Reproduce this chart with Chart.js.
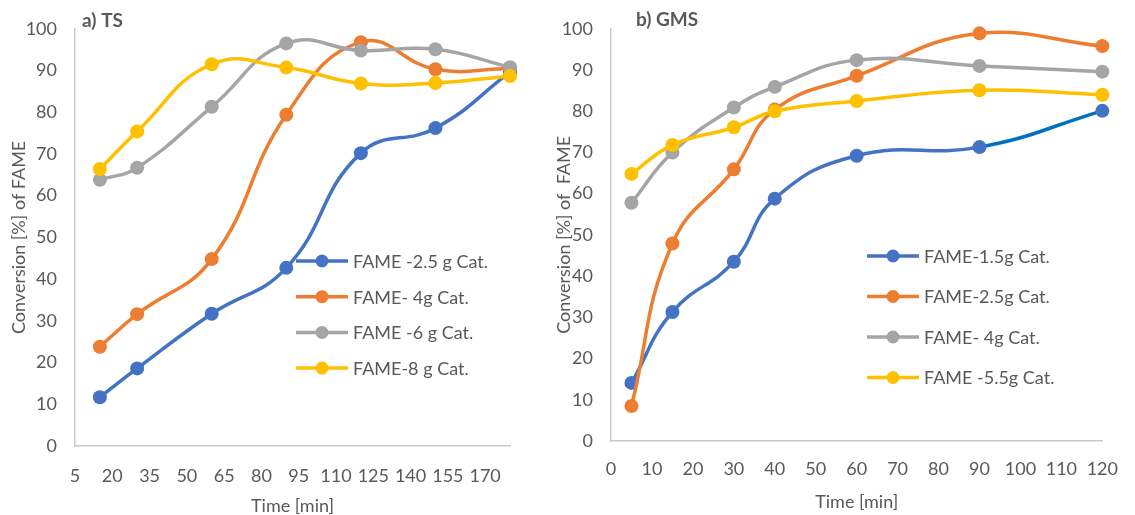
<!DOCTYPE html>
<html>
<head>
<meta charset="utf-8">
<script src="https://cdn.jsdelivr.net/npm/chart.js@4.4.0/dist/chart.umd.min.js"></script>
<style>
  html, body { margin: 0; padding: 0; background: #fff; }
  #wrap { position: relative; width: 1135px; height: 515px; }
  .box { position: absolute; top: 0; height: 515px; }
</style>
</head>
<body>
<div id="wrap">
  <div class="box" style="left:0;width:545px"><canvas id="chartTS"></canvas></div>
  <div class="box" style="left:545px;width:590px"><canvas id="chartGMS"></canvas></div>
</div>
<script>
// a) TS
const timeTS = [15, 30, 60, 90, 120, 150, 180];
const tsTicks = [5, 20, 35, 50, 65, 80, 95, 110, 125, 140, 155, 170];
const tsLabels = ['FAME -2.5 g Cat.', 'FAME- 4g Cat.', 'FAME -6 g Cat.', 'FAME-8 g Cat.'];
const ts25 = [11.7, 18.6, 31.7, 42.7, 70.2, 76.2, 89.6];
const ts4 = [23.8, 31.6, 44.8, 79.4, 96.8, 90.3, 90.5];
const ts6 = [63.8, 66.7, 81.3, 96.5, 94.8, 95.1, 90.8];
const ts8 = [66.4, 75.4, 91.5, 90.7, 86.9, 87.0, 88.7];

// b) GMS
const timeGMS = [5, 15, 30, 40, 60, 90, 120];
const gmsTicks = [0, 10, 20, 30, 40, 50, 60, 70, 80, 90, 100, 110, 120];
const gmsLabels = ['FAME-1.5g Cat.', 'FAME-2.5g Cat.', 'FAME- 4g Cat.', 'FAME -5.5g Cat.'];
const gms15 = [14.1, 31.3, 43.5, 58.8, 69.2, 71.3, 80.1];
const gms25 = [8.5, 47.9, 65.9, 80.4, 88.6, 98.9, 95.8];
const gms4 = [57.8, 70.0, 80.9, 85.9, 92.4, 91.0, 89.6];
const gms55 = [64.8, 71.8, 76.1, 80.0, 82.5, 85.1, 84.0];

const yTicks = [0, 10, 20, 30, 40, 50, 60, 70, 80, 90, 100];

const colors = ['#4472C4', '#ED7D31', '#A5A5A5', '#FFC000'];
const textColor = '#595959';
const axisColor = '#C9C9C9';

Chart.defaults.font.family = "Lato, 'Open Sans', sans-serif";
Chart.defaults.color = textColor;

// legend drawn inside the plot, like the excel one
const insideLegend = {
  id: 'insideLegend',
  afterDraw(chart, args, opts) {
    const ctx = chart.ctx;
    chart.data.datasets.forEach((ds, i) => {
      const y = opts.y + i * opts.gap;
      ctx.save();
      ctx.strokeStyle = ds.borderColor;
      ctx.lineWidth = 3.5;
      ctx.beginPath();
      ctx.moveTo(opts.x, y);
      ctx.lineTo(opts.x + 52, y);
      ctx.stroke();
      ctx.fillStyle = ds.borderColor;
      ctx.beginPath();
      ctx.arc(opts.x + 26, y, 6.5, 0, Math.PI * 2);
      ctx.fill();
      ctx.fillStyle = textColor;
      ctx.font = "18px Lato, 'Open Sans', sans-serif";
      ctx.textBaseline = 'middle';
      ctx.fillText(ds.label, opts.x + 57, y + 1);
      ctx.restore();
    });
  }
};

const panelTitle = {
  id: 'panelTitle',
  afterDraw(chart, args, opts) {
    const ctx = chart.ctx;
    ctx.save();
    ctx.fillStyle = textColor;
    ctx.font = "bold 19px Lato, 'Open Sans', sans-serif";
    ctx.textBaseline = 'middle';
    ctx.fillText(opts.text, opts.x, opts.y);
    ctx.restore();
  }
};

function makeSets(labels, series, xs) {
  return series.map((vals, i) => ({
    label: labels[i],
    data: vals.map((v, k) => ({ x: xs[k], y: v })),
    borderColor: colors[i],
    backgroundColor: colors[i],
    pointBackgroundColor: colors[i],
    pointBorderWidth: 0,
    pointRadius: 7,
    pointHoverRadius: 7,
    borderWidth: 3.5,
    tension: 0.45,
    clip: false,
    order: series.length - i
  }));
}

function makeChart(id, cfg) {
  const ctx = document.getElementById(id).getContext('2d');
  return new Chart(ctx, {
    type: 'line',
    data: { datasets: cfg.datasets },
    options: {
      responsive: true,
      maintainAspectRatio: false,
      animation: false,
      layout: { padding: { top: 28, right: cfg.padRight, bottom: 0, left: 0 } },
      plugins: {
        legend: { display: false },
        tooltip: { enabled: false },
        insideLegend: cfg.legend,
        panelTitle: cfg.title
      },
      scales: {
        x: {
          type: 'linear',
          min: cfg.xMin,
          max: cfg.xMax,
          grid: { display: false, drawTicks: false },
          border: { display: true, color: axisColor, width: 1.5 },
          ticks: { font: { size: 18 }, padding: cfg.xTickPad, maxRotation: 0, autoSkip: false },
          afterBuildTicks: s => { s.ticks = cfg.xTicks.map(v => ({ value: v })); },
          afterFit: s => { s.height = cfg.xHeight; },
          title: { display: true, text: 'Time [min]', font: { size: 18 }, padding: { top: 0, bottom: cfg.xTitlePad } }
        },
        y: {
          min: 0,
          max: 100,
          grid: { display: false, drawTicks: false },
          border: { display: true, color: axisColor, width: 1.5 },
          ticks: { font: { size: 18 }, padding: 18 },
          afterBuildTicks: s => { s.ticks = yTicks.map(v => ({ value: v })); },
          afterFit: s => { s.width = cfg.yWidth; },
          title: { display: true, text: cfg.yTitle, font: { size: 18 }, padding: { top: 8, bottom: 0 } }
        }
      }
    },
    plugins: [insideLegend, panelTitle]
  });
}

const setsTS = makeSets(tsLabels, [ts25, ts4, ts6, ts8], timeTS);
const setsGMS = makeSets(gmsLabels, [gms15, gms25, gms4, gms55], timeGMS);
// last blue stretch of b) is a darker blue in the original
setsGMS[0].segment = { borderColor: c => c.p0DataIndex === 5 ? '#0070C0' : undefined };

makeChart('chartTS', {
  datasets: setsTS,
  xMin: 5, xMax: 180, xTicks: tsTicks,
  padRight: 35, yWidth: 75, xHeight: 69, xTickPad: 19, xTitlePad: -2,
  yTitle: 'Conversion [%] of FAME',
  legend: { x: 296, y: 261, gap: 35.7 },
  title: { text: 'a) TS', x: 82, y: 21 }
});

makeChart('chartGMS', {
  datasets: setsGMS,
  xMin: 0, xMax: 120, xTicks: gmsTicks,
  padRight: 16, yWidth: 66, xHeight: 74, xTickPad: 17, xTitlePad: 2,
  yTitle: 'Conversion [%] of  FAME',
  legend: { x: 322, y: 256, gap: 40.5 },
  title: { text: 'b) GMS', x: 91, y: 20 }
});
</script>
</body>
</html>
